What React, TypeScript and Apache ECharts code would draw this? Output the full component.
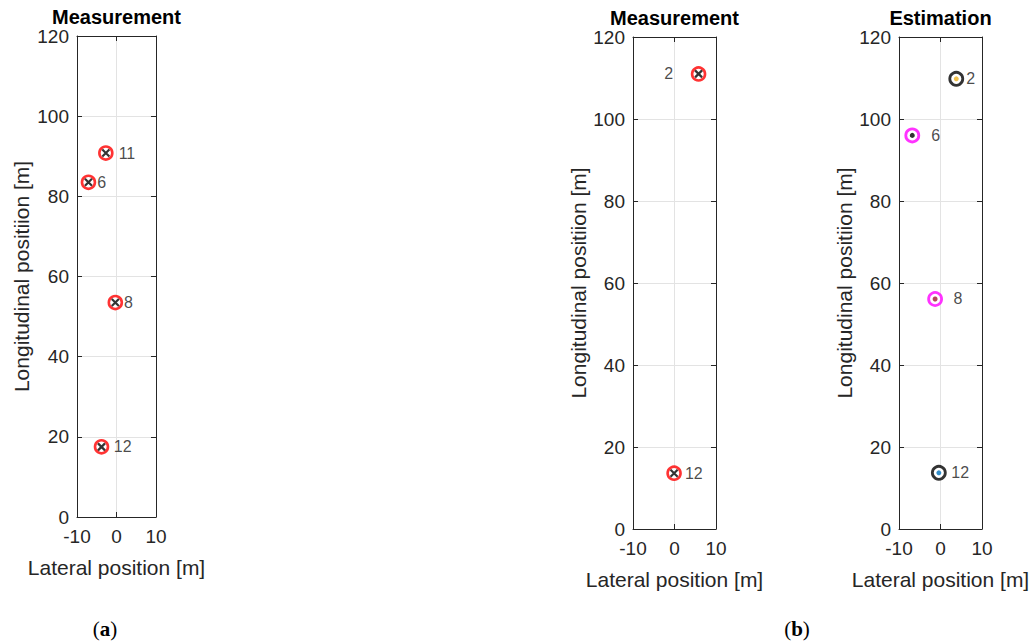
import React, { useEffect, useRef } from "react";
import * as echarts from "echarts";

// ---- data ----
const X_TICKS = [-10, 0, 10];
const Y_TICKS = [0, 20, 40, 60, 80, 100, 120];

// Panel (a) measurement
const measA_ids = ["11", "6", "8", "12"];
const measA_x = [-2.7, -7.1, -0.3, -3.8];
const measA_y = [90.8, 83.5, 53.5, 17.5];

// Panel (b) measurement
const measB_ids = ["2", "12"];
const measB_x = [5.8, -0.1];
const measB_y = [111.0, 13.6];

// Panel (b) estimation
const est_ids = ["2", "6", "8", "12"];
const est_x = [3.8, -6.8, -1.3, -0.4];
const est_y = [109.8, 96.0, 56.1, 13.7];

const TITLES = ["Measurement", "Measurement", "Estimation"];
const X_NAME = "Lateral position [m]";
const Y_NAME = "Longitudinal positiion [m]";

// ---- styles (kept apart from data) ----
const LABEL_A = [
  { pos: "right", gap: 5 },
  { pos: "right", gap: 1 },
  { pos: "right", gap: 1 },
  { pos: "right", gap: 4.5 },
];
const LABEL_B = [
  { pos: "left", gap: 17.5 },
  { pos: "right", gap: 3 },
];
const LABEL_E = [
  { pos: "right", gap: 2 },
  { pos: "right", gap: 11 },
  { pos: "right", gap: 10.5 },
  { pos: "right", gap: 4.5 },
];
const RING_COLORS: Record<string, string> = { "2": "#000000", "6": "#FF00FF", "8": "#FF00FF", "12": "#000000" };
const DOT_COLORS: Record<string, string> = { "2": "#EDB120", "6": "#000000", "8": "#A2142F", "12": "#0072BD" };

const GRIDS = [
  { left: 77, top: 36, width: 79, height: 481, nameGapY: 45 },
  { left: 633, top: 37, width: 83, height: 492, nameGapY: 42 },
  { left: 899, top: 37, width: 83, height: 492, nameGapY: 42 },
];

const FONT = "'Liberation Sans', Arial, sans-serif";
const AX = "#262626";
const GRIDLINE = "#e3e3e3";

function makeAxes(i: number) {
  const g = GRIDS[i];
  const xs = [
    {
      type: "value", gridIndex: i, min: X_TICKS[0], max: X_TICKS[X_TICKS.length - 1], interval: 10, position: "bottom",
      axisLine: { show: true, onZero: false, lineStyle: { color: AX, width: 1 } },
      axisTick: { show: true, inside: true, length: 5, lineStyle: { color: AX } },
      axisLabel: { show: true, color: AX, fontSize: 19, fontFamily: FONT, margin: 10, formatter: (v: number) => String(v) },
      splitLine: { show: true, lineStyle: { color: GRIDLINE, width: 1 } },
      name: X_NAME, nameLocation: "middle", nameGap: 40,
      nameTextStyle: { color: AX, fontSize: 21, fontFamily: FONT, verticalAlign: "top" },
    },
    {
      type: "value", gridIndex: i, min: X_TICKS[0], max: X_TICKS[X_TICKS.length - 1], interval: 10, position: "top",
      axisLine: { show: true, onZero: false, lineStyle: { color: AX, width: 1 } },
      axisTick: { show: true, inside: true, length: 5, lineStyle: { color: AX } },
      axisLabel: { show: false }, splitLine: { show: false },
    },
  ];
  const ys = [
    {
      type: "value", gridIndex: i, min: Y_TICKS[0], max: Y_TICKS[Y_TICKS.length - 1], interval: 20, position: "left",
      axisLine: { show: true, onZero: false, lineStyle: { color: AX, width: 1 } },
      axisTick: { show: true, inside: true, length: 5, lineStyle: { color: AX } },
      axisLabel: { show: true, color: AX, fontSize: 19, lineHeight: 18, fontFamily: FONT, margin: 8 },
      splitLine: { show: true, lineStyle: { color: GRIDLINE, width: 1 } },
      name: Y_NAME, nameLocation: "middle", nameGap: g.nameGapY,
      nameTextStyle: { color: AX, fontSize: 21, fontFamily: FONT },
    },
    {
      type: "value", gridIndex: i, min: Y_TICKS[0], max: Y_TICKS[Y_TICKS.length - 1], interval: 20, position: "right",
      axisLine: { show: true, onZero: false, lineStyle: { color: AX, width: 1 } },
      axisTick: { show: true, inside: true, length: 5, lineStyle: { color: AX } },
      axisLabel: { show: false }, splitLine: { show: false },
    },
  ];
  return { xs, ys };
}

function labelled(ids: string[], xs: number[], ys: number[], lab: { pos: string; gap: number }[]) {
  return ids.map((id, k) => ({
    value: [xs[k], ys[k]],
    name: id,
    label: { position: lab[k].pos, distance: lab[k].gap },
  }));
}

const X_SYMBOL = "path://M0 0L10 10M10 0L0 10";

function measurementSeries(axisIdx: number, ids: string[], xs: number[], ys: number[], lab: { pos: string; gap: number }[]) {
  return [
    {
      type: "scatter", xAxisIndex: axisIdx * 2, yAxisIndex: axisIdx * 2,
      symbol: "circle", symbolSize: 13,
      itemStyle: { color: "#ffffff", borderColor: "#FF0000", borderWidth: 2.6 },
      data: labelled(ids, xs, ys, lab),
      label: {
        show: true, formatter: (p: any) => p.name, color: "#1a1a1a",
        fontSize: 16, fontFamily: FONT,
      },
      z: 3,
    },
    {
      type: "scatter", xAxisIndex: axisIdx * 2, yAxisIndex: axisIdx * 2,
      symbol: X_SYMBOL, symbolSize: 7,
      itemStyle: { color: "rgba(0,0,0,0)", borderColor: "#000000", borderWidth: 2.2 },
      data: ids.map((_, k) => [xs[k], ys[k]]),
      z: 4,
    },
  ];
}

function estimationSeries(axisIdx: number) {
  return [
    {
      type: "scatter", xAxisIndex: axisIdx * 2, yAxisIndex: axisIdx * 2,
      symbol: "circle", symbolSize: 13,
      data: est_ids.map((id, k) => ({
        value: [est_x[k], est_y[k]], name: id,
        itemStyle: { color: "#ffffff", borderColor: RING_COLORS[id], borderWidth: 2.8 },
        label: { position: LABEL_E[k].pos, distance: LABEL_E[k].gap },
      })),
      label: {
        show: true, formatter: (p: any) => p.name, color: "#1a1a1a",
        fontSize: 16, fontFamily: FONT,
      },
      z: 3,
    },
    {
      type: "scatter", xAxisIndex: axisIdx * 2, yAxisIndex: axisIdx * 2,
      symbol: "circle", symbolSize: 5,
      data: est_ids.map((id, k) => ({
        value: [est_x[k], est_y[k]],
        itemStyle: { color: DOT_COLORS[id] },
      })),
      z: 4,
    },
  ];
}

export default function App() {
  const ref = useRef<HTMLDivElement>(null);
  useEffect(() => {
    if (!ref.current) return;
    const chart = echarts.init(ref.current, null, { renderer: "svg" });
    const xAxis: any[] = [];
    const yAxis: any[] = [];
    GRIDS.forEach((_, i) => {
      const { xs, ys } = makeAxes(i);
      xAxis.push(...xs);
      yAxis.push(...ys);
    });
    const serifRich = {
      p: { fontFamily: "'Liberation Serif', serif", fontSize: 21, fill: "#000" },
      b: { fontFamily: "'Liberation Serif', serif", fontSize: 21, fontWeight: "bold", fill: "#000" },
    };
    const option: any = {
      animation: false,
      backgroundColor: "#ffffff",
      grid: GRIDS.map((g) => ({ left: g.left, top: g.top, width: g.width, height: g.height, containLabel: false })),
      xAxis,
      yAxis,
      title: GRIDS.map((g, i) => ({
        text: TITLES[i],
        left: g.left + g.width / 2,
        top: g.top - 29,
        padding: 0,
        textAlign: "center",
        textStyle: { color: "#000000", fontSize: 20, lineHeight: 20, fontWeight: "bold", fontFamily: FONT },
      })),
      series: [
        ...measurementSeries(0, measA_ids, measA_x, measA_y, LABEL_A),
        ...measurementSeries(1, measB_ids, measB_x, measB_y, LABEL_B),
        ...estimationSeries(2),
      ],
      graphic: [
        {
          type: "text", x: 105, y: 629,
          style: { text: "{p|(}{b|a}{p|)}", align: "center", verticalAlign: "middle", rich: serifRich },
        },
        {
          type: "text", x: 797, y: 629,
          style: { text: "{p|(}{b|b}{p|)}", align: "center", verticalAlign: "middle", rich: serifRich },
        },
      ],
    };
    chart.setOption(option);
    return () => chart.dispose();
  }, []);
  return (
    <div
      ref={ref}
      style={{ position: "fixed", left: 0, top: 0, width: 1035, height: 641, background: "#fff" }}
    />
  );
}
